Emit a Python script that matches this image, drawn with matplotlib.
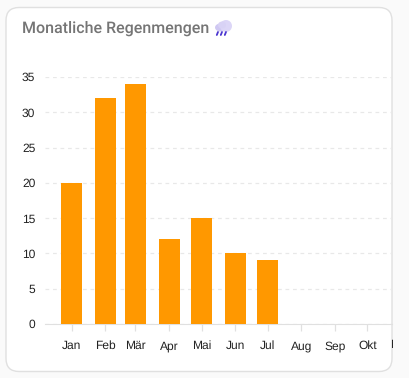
import matplotlib
matplotlib.use('Agg')
import matplotlib.pyplot as plt
import matplotlib.dates as mdates
import matplotlib.patches as mpatches
from matplotlib.transforms import Bbox
import datetime as dt

plt.rcParams['text.hinting']='none'

W=409
H=378

months=['Jan','Feb','Mär','Apr','Mai','Jun','Jul','Aug','Sep','Okt','Nov']
month_num=[1,2,3,4,5,6,7,8,9,10,11]
rain=[20,32,34,12,15,10,9]
yticks=[0,5,10,15,20,25,30,35]

dates=[dt.date(2023,m,1) for m in month_num]

fig=plt.figure(figsize=(W/100,H/100),dpi=100,facecolor='#fafafa')

##background layer in pixel coords, y going down
bg=fig.add_axes([0,0,1,1])
bg.set_xlim(0,W)
bg.set_ylim(H,0)
bg.axis('off')
bg.add_patch(mpatches.FancyBboxPatch((6,7.5),386,364,boxstyle='round,pad=0,rounding_size=13',
                                     fc='white',ec='#e0e0e0',lw=1))
bg.text(22,33,'Monatliche Regenmengen',family='Roboto',weight='medium',fontsize=11.5,
        color='#757575',va='baseline',ha='left')

##rain cloud icon
for cx,cy,w,h,c in [(220.5,27.5,11,8,'#cfc8f2'),(226,26,12,12,'#dcd6f7'),(222,25,8,7,'#d8d2f5')]:
    bg.add_patch(mpatches.Ellipse((cx,cy),w,h,fc=c,ec='none'))
for x0 in [218,222,226]:
    bg.plot([x0,x0-1.2],[32,35],color='#4a35d0',lw=1.3,solid_capstyle='round')

##chart
left,right,top,bottom=45,392,77,324
ax=fig.add_axes([left/W,1-bottom/H,(right-left)/W,(bottom-top)/H])
ax.patch.set_alpha(0)
px_per_day=1.084
jan_px=71.5

ax.bar(dates[:len(rain)],rain,width=21/px_per_day,color='#ff9800',zorder=3)

ax.set_yticks(yticks)
ax.set_xticks(dates[:-1])
ax.set_xticklabels(months[:-1])
ax.set_xlim(mdates.date2num(dates[0])-(jan_px-left)/px_per_day,
            mdates.date2num(dates[0])+(right-jan_px)/px_per_day)
ax.set_ylim(0,35)
ax.grid(axis='y',color='#e8e8e8',linestyle=(0,(3,3)),linewidth=0.9,zorder=0)
for s in ['top','right','left']:
    ax.spines[s].set_visible(False)
ax.spines['bottom'].set_color('#e0e0e0')
ax.tick_params(axis='y',length=0,pad=7,labelsize=8.64,labelcolor='#222222')
ax.tick_params(axis='x',length=5,width=0.9,color='#e0e0e0',pad=7,labelsize=8.64,labelcolor='#222222')
for t in ax.get_xticklabels()+ax.get_yticklabels():
    t.set_family(['Liberation Sans','DejaVu Sans'])

##Nov sits past the edge of the chart, only a sliver of its label shows
nov=ax.text(dates[-1],-21/(bottom-top),months[-1],transform=ax.get_xaxis_transform(),
            ha='center',va='center',fontsize=8.64,color='#222222',family=['Liberation Sans','DejaVu Sans'],
            clip_on=True)
nov.set_clip_box(Bbox([[0,0],[right+1,H]]))

fig.savefig('out.png',dpi=100,facecolor=fig.get_facecolor())
